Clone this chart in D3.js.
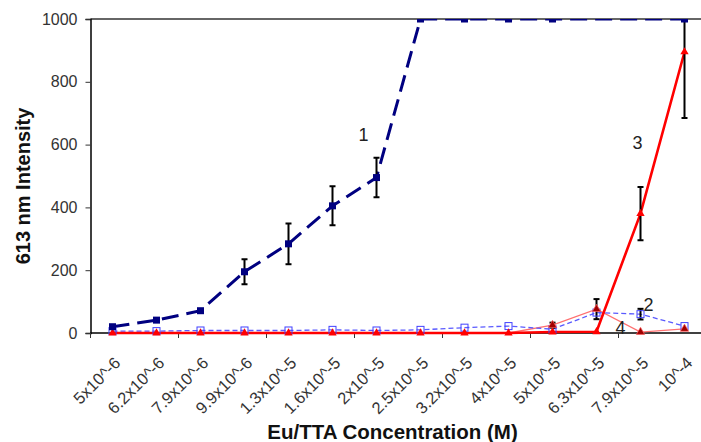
<!DOCTYPE html>
<html><head><meta charset="utf-8">
<script src="https://cdn.jsdelivr.net/npm/d3@7"></script>
<style>body{margin:0;background:#fff}svg{display:block}text{font-family:"Liberation Sans",Arial,sans-serif}</style>
</head><body><svg id="c" width="701" height="442"></svg>
<script>
const categories = ["5x10^-6","6.2x10^-6","7.9x10^-6","9.9x10^-6","1.3x10^-5","1.6x10^-5","2x10^-5","2.5x10^-5","3.2x10^-5","4x10^-5","5x10^-5","6.3x10^-5","7.9x10^-5","10^-4"];
const yTicks = [0,200,400,600,800,1000];
const series1 = [20,41,71,195,284,405,495,1000,1000,1000,1000,null,null,1000];
const series1Err = [0,0,0,40,65,62,63,0,0,0,0,0,0,0];
const series2 = [6,6,8,8,8,10,8,10,17,22,12,65,60,22];
const series2Err = [0,0,0,0,0,0,0,0,0,0,0,0,17,0];
const series3 = [0,0,0,0,0,0,0,0,0,0,3,4,380,895];
const series3Err = [0,0,0,0,0,0,0,0,0,0,0,0,85,210];
const series4 = [0,0,0,0,0,0,0,0,0,0,25,76,3,13];
const series4Err = [0,0,0,0,0,0,0,0,0,0,8,32,0,0];
const seriesLabels = [{t:"1",i:6,v:630,dx:-13},{t:"3",i:12,v:605,dx:-3},{t:"2",i:12,v:90,dx:8},{t:"4",i:12,v:15,dx:-20}];

const svg = d3.select("#c");
const L=90.5, R=706.5, T=19, B=333;
const x = d3.scaleBand().domain(categories).range([L,R]);
const y = d3.scaleLinear().domain([0,1000]).range([B,T]);
const cx = c => x(c)+x.bandwidth()/2;

svg.append("defs").append("clipPath").attr("id","clip").append("rect")
  .attr("x",L).attr("y",T).attr("width",R-L).attr("height",B-T+20);

// top line
svg.append("line").attr("x1",L).attr("x2",701).attr("y1",y(1000)).attr("y2",y(1000)).attr("stroke","#333").attr("stroke-width",1.3);

// y axis
const ya = svg.append("g").attr("transform",`translate(${L},0)`).call(d3.axisLeft(y).tickValues(yTicks).tickFormat(d3.format("d")).tickSize(5).tickPadding(8));
ya.select(".domain").attr("stroke","#000").attr("stroke-width",1.5);
ya.selectAll(".tick line").attr("stroke","#333");
ya.selectAll(".tick text").attr("font-size",16).attr("fill","#333").attr("font-family","Liberation Sans, Arial");

// x axis
svg.append("line").attr("x1",L).attr("x2",701).attr("y1",B).attr("y2",B).attr("stroke","#000").attr("stroke-width",1.5);
const tickIdx = d3.range(0,categories.length+1,2);
svg.selectAll(".xt").data(tickIdx).enter().append("line")
  .attr("x1",i=>L+i*x.step()).attr("x2",i=>L+i*x.step()).attr("y1",B).attr("y2",B+5).attr("stroke","#333");
svg.selectAll(".xl").data(categories).enter().append("text")
  .attr("transform",c=>`translate(${cx(c)+9},${B+31}) rotate(-45)`)
  .attr("text-anchor","end").attr("font-size",16.5).attr("fill","#333").text(c=>c);

// axis titles
svg.append("text").attr("transform",`translate(30,186) rotate(-90)`).attr("text-anchor","middle")
  .attr("font-size",20).attr("font-weight","bold").attr("fill","#111").text("613 nm Intensity");
svg.append("text").attr("x",392.5).attr("y",439).attr("text-anchor","middle")
  .attr("font-size",20.5).attr("font-weight","bold").attr("fill","#111").text("Eu/TTA Concentration (M)");

const g = svg.append("g").attr("clip-path","url(#clip)");
const mk = (vals)=>categories.map((c,i)=>({c,v:vals[i]})).filter(d=>d.v!==null);
const line = d3.line().x(d=>cx(d.c)).y(d=>y(d.v));

function errbars(vals, errs){
  const d = categories.map((c,i)=>({c,v:vals[i],e:errs[i]})).filter(d=>d.v!==null && d.e>0);
  const eg = g.append("g").attr("stroke","#000").attr("stroke-width",2);
  d.forEach(p=>{
    const X=cx(p.c);
    eg.append("line").attr("x1",X).attr("x2",X).attr("y1",y(p.v-p.e)).attr("y2",y(p.v+p.e));
    eg.append("line").attr("x1",X-3).attr("x2",X+3).attr("y1",y(p.v-p.e)).attr("y2",y(p.v-p.e));
    eg.append("line").attr("x1",X-3).attr("x2",X+3).attr("y1",y(p.v+p.e)).attr("y2",y(p.v+p.e));
  });
}
const tri = d3.symbol().type(d3.symbolTriangle).size(30);

// series 4 (thin light red)
g.append("path").datum(mk(series4)).attr("d",line).attr("fill","none").attr("stroke","#ff7070").attr("stroke-width",1.3);
// series 2 (thin blue dashed)
g.append("path").datum(mk(series2)).attr("d",line).attr("fill","none").attr("stroke","#5a5aff").attr("stroke-width",1.3).attr("stroke-dasharray","5,3");
// series 3 (thick red)
g.append("path").datum(mk(series3)).attr("d",line).attr("fill","none").attr("stroke","#ff0000").attr("stroke-width",2.6);
// series 1 (navy dashed)
g.append("path").datum(mk(series1)).attr("d",line).attr("fill","none").attr("stroke","#000080").attr("stroke-width",3).attr("stroke-dasharray","17,8");

errbars(series1,series1Err);
errbars(series2,series2Err);
errbars(series3,series3Err);
errbars(series4,series4Err);

// markers
g.selectAll(".m2").data(mk(series2)).enter().append("rect")
  .attr("x",d=>cx(d.c)-3.5).attr("y",d=>y(d.v)-3.5).attr("width",7).attr("height",7)
  .attr("fill","none").attr("stroke","#4040ff").attr("stroke-width",1);
g.selectAll(".m3").data(mk(series3)).enter().append("path")
  .attr("transform",d=>`translate(${cx(d.c)},${y(d.v)})`).attr("d",tri).attr("fill","#ff0000");
g.selectAll(".m4").data(mk(series4).filter(d=>d.v>1)).enter().append("path")
  .attr("transform",d=>`translate(${cx(d.c)},${y(d.v)})`).attr("d",tri).attr("fill","#a00000").attr("stroke","#ff6060").attr("stroke-width",0.7);
g.selectAll(".m1").data(mk(series1)).enter().append("rect")
  .attr("x",d=>cx(d.c)-3.5).attr("y",d=>y(d.v)-3.5).attr("width",7).attr("height",7).attr("fill","#000080");

// series labels
svg.selectAll(".sl").data(seriesLabels).enter().append("text")
  .attr("x",d=>cx(categories[d.i])+d.dx).attr("y",d=>y(d.v)+6).attr("text-anchor","middle")
  .attr("font-size",18).attr("fill","#222").text(d=>d.t);
</script></body></html>
